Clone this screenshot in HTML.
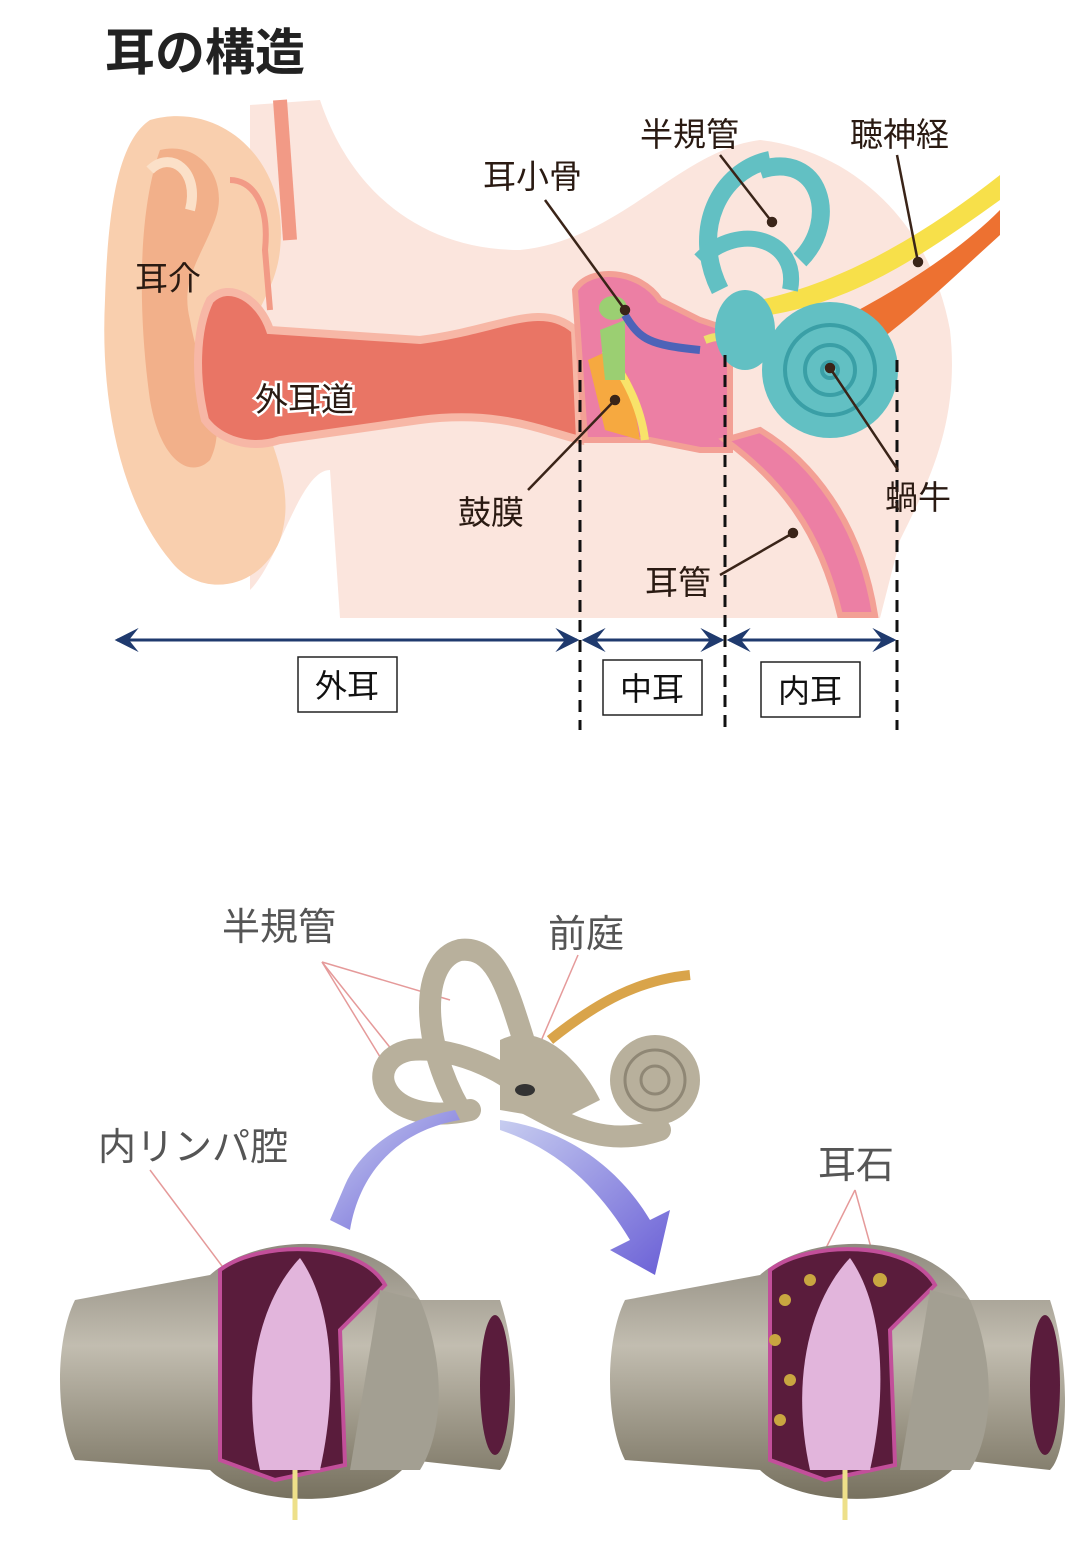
<!DOCTYPE html>
<html><head><meta charset="utf-8"><style>
body{margin:0;background:#fff}
svg text{font-family:"Liberation Sans","Noto Sans CJK JP",sans-serif}
</style></head><body>
<svg width="1078" height="1536" viewBox="0 0 1078 1536" xmlns="http://www.w3.org/2000/svg">
<defs>
<marker id="ar" viewBox="0 0 10 10" refX="9" refY="5" markerWidth="8" markerHeight="8" orient="auto-start-reverse"><path d="M0,0 L10,5 L0,10 L4,5z" fill="#1f3a6e"/></marker>
<linearGradient id="cyl" x1="0" y1="0" x2="0" y2="1"><stop offset="0" stop-color="#8f8a7e"/><stop offset="0.4" stop-color="#c2bdb0"/><stop offset="1" stop-color="#77715f"/></linearGradient>
<linearGradient id="bl" x1="0" y1="0" x2="1" y2="1"><stop offset="0" stop-color="#c7cdf0"/><stop offset="1" stop-color="#6a5fd6"/></linearGradient>
</defs>
<text x="105" y="70" font-size="50" font-weight="bold" fill="#222">耳の構造</text>
<path d="M250,105 L320,100 C350,190 420,250 520,250 C620,240 680,150 760,140 C850,150 930,220 950,330 C960,420 930,480 900,540 L880,618 L340,618 L330,470 C300,470 280,560 250,590 Z" fill="#fbe5dd"/>
<path d="M150,120 C220,100 290,160 280,250 C275,300 240,320 250,370 C260,430 300,480 280,540 C260,590 200,600 170,560 C120,500 100,400 105,300 C108,200 120,140 150,120Z" fill="#f9cfae"/>
<path d="M160,150 C200,140 230,180 215,220 C200,260 180,280 190,320 C200,380 230,420 210,460 C190,480 160,460 150,400 C140,330 135,220 160,150Z" fill="#f2b08a"/>
<path d="M150,170 C170,150 200,170 190,210" stroke="#fbe0c8" stroke-width="10" fill="none"/>
<path d="M210,300 C230,280 260,300 270,330 L420,340 C500,330 540,300 575,330 L580,440 C540,430 500,410 420,420 L280,440 C250,450 220,440 205,420 C195,380 195,330 210,300Z" fill="#e97565" stroke="#f7b7a6" stroke-width="8"/>
<path d="M230,180 C250,180 270,200 265,250 L270,310" stroke="#f29a86" stroke-width="6" fill="none"/>
<path d="M280,100 L290,240" stroke="#f29a86" stroke-width="14" fill="none"/>
<path d="M575,290 C590,265 640,270 660,300 L700,320 L730,330 L730,450 L700,450 L650,440 L585,440 Z" fill="#ec7fa4" stroke="#f3a095" stroke-width="6"/>
<path d="M588,360 L610,350 L630,380 L640,440 L605,430 Z" fill="#f6a940"/>
<path d="M605,350 C620,370 640,400 645,440" stroke="#f8e36a" stroke-width="8" fill="none"/>
<ellipse cx="613" cy="308" rx="14" ry="12" fill="#9bcf72"/>
<path d="M600,330 L625,320 L625,380 L605,380Z" fill="#9bcf72"/>
<path d="M625,315 C640,340 650,345 700,350" stroke="#4d63b8" stroke-width="8" fill="none"/>
<path d="M705,340 C730,330 740,345 745,355" stroke="#ede06a" stroke-width="8" fill="none"/>
<path d="M725,440 C780,480 820,530 840,615 L875,615 C860,520 810,460 760,430 Z" fill="#ec7fa4" stroke="#f3a095" stroke-width="6"/>
<path d="M760,300 C850,280 930,230 1000,175 L1000,200 C930,250 860,300 770,315Z" fill="#f7e04a"/>
<path d="M820,330 C880,300 950,260 1000,210 L1000,235 C950,280 900,330 850,360Z" fill="#ed7131"/>
<circle cx="830" cy="370" r="68" fill="#62c0c3"/>
<circle cx="830" cy="370" r="45" fill="none" stroke="#3a9fa6" stroke-width="4"/>
<circle cx="830" cy="370" r="25" fill="none" stroke="#3a9fa6" stroke-width="4"/>
<circle cx="830" cy="370" r="8" fill="none" stroke="#3a9fa6" stroke-width="4"/>
<ellipse cx="745" cy="330" rx="30" ry="40" fill="#62c0c3"/>
<path d="M720,290 C690,230 720,170 770,160" stroke="#62c0c3" stroke-width="18" fill="none"/>
<path d="M760,170 C820,150 840,220 800,260" stroke="#62c0c3" stroke-width="18" fill="none"/>
<path d="M700,260 C740,220 800,240 790,290" stroke="#62c0c3" stroke-width="16" fill="none"/>
<g stroke="#111" stroke-width="3" stroke-dasharray="12,8">
<line x1="580" y1="360" x2="580" y2="730"/><line x1="725" y1="355" x2="725" y2="730"/><line x1="897" y1="360" x2="897" y2="730"/>
</g>
<g stroke="#1f3a6e" stroke-width="3">
<line x1="117" y1="640" x2="577" y2="640" marker-start="url(#ar)" marker-end="url(#ar)"/>
<line x1="584" y1="640" x2="722" y2="640" marker-start="url(#ar)" marker-end="url(#ar)"/>
<line x1="729" y1="640" x2="894" y2="640" marker-start="url(#ar)" marker-end="url(#ar)"/>
</g>
<g fill="#fff" stroke="#222" stroke-width="1.5">
<rect x="298" y="657" width="99" height="55"/><rect x="603" y="660" width="99" height="55"/><rect x="761" y="662" width="99" height="55"/>
</g>
<g font-size="32" fill="#111" text-anchor="middle">
<text x="347" y="697">外耳</text><text x="652" y="700">中耳</text><text x="810" y="702">内耳</text>
</g>
<g stroke="#3a2418" stroke-width="2.5" fill="#3a2418">
<line x1="545" y1="200" x2="625" y2="310"/><circle cx="625" cy="310" r="4"/>
<line x1="720" y1="155" x2="772" y2="222"/><circle cx="772" cy="222" r="4"/>
<line x1="897" y1="155" x2="918" y2="262"/><circle cx="918" cy="262" r="4"/>
<line x1="528" y1="490" x2="615" y2="400"/><circle cx="615" cy="400" r="4"/>
<line x1="898" y1="470" x2="830" y2="368"/><circle cx="830" cy="368" r="4"/>
<line x1="720" y1="575" x2="793" y2="533"/><circle cx="793" cy="533" r="4"/>
</g>
<g font-size="33" fill="#2a1a12">
<text x="135" y="290">耳介</text>
<text x="483" y="188">耳小骨</text>
<text x="640" y="146">半規管</text>
<text x="850" y="146">聴神経</text>
<text x="458" y="524">鼓膜</text>
<text x="885" y="509">蝸牛</text>
<text x="645" y="594">耳管</text>
<text x="255" y="411" stroke="#fff" stroke-width="5" paint-order="stroke">外耳道</text>
</g>
<g font-size="38" fill="#555">
<text x="222" y="940">半規管</text><text x="548" y="947">前庭</text>
<text x="98" y="1160">内リンパ腔</text><text x="818" y="1178">耳石</text>
</g>
<g stroke="#e59a9a" stroke-width="1.5">
<line x1="322" y1="962" x2="450" y2="1000"/><line x1="322" y1="962" x2="400" y2="1060"/><line x1="322" y1="962" x2="385" y2="1065"/>
<line x1="578" y1="955" x2="535" y2="1055"/><line x1="150" y1="1170" x2="240" y2="1290"/>
<line x1="855" y1="1190" x2="820" y2="1260"/><line x1="855" y1="1190" x2="880" y2="1280"/>
</g>
<g fill="none" stroke="#b8b09c" stroke-width="22" stroke-linecap="round">
<path d="M460,1110 C420,1040 420,960 460,950 C500,945 510,1000 530,1060"/>
<path d="M470,1110 C380,1130 360,1060 410,1050 C460,1045 520,1080 520,1090"/>
<path d="M520,1100 C560,1120 600,1150 660,1130"/>
</g>
<path d="M500,1040 C540,1020 580,1060 600,1100 L560,1120 L500,1110Z" fill="#b8b09c"/>
<path d="M550,1040 C600,1000 640,980 690,975" stroke="#d9a44a" stroke-width="10" fill="none"/>
<circle cx="655" cy="1080" r="45" fill="#b8b09c"/>
<circle cx="655" cy="1080" r="30" fill="none" stroke="#8f8775" stroke-width="3"/>
<circle cx="655" cy="1080" r="14" fill="none" stroke="#8f8775" stroke-width="3"/>
<ellipse cx="525" cy="1090" rx="10" ry="6" fill="#333"/>
<path d="M460,1120 C400,1130 360,1170 350,1230 L330,1220 L345,1185 C360,1150 400,1120 455,1110Z" fill="url(#bl)"/>
<path d="M500,1120 C570,1130 620,1170 650,1220 L670,1210 L655,1275 L610,1250 L630,1240 C600,1190 560,1150 500,1130Z" fill="url(#bl)"/>
<g id="c1">
<path d="M75,1300 L210,1275 C260,1230 380,1230 420,1300 L500,1300 C520,1360 520,1450 500,1470 L410,1460 C380,1510 250,1510 210,1470 L75,1460 C55,1420 55,1340 75,1300Z" fill="url(#cyl)"/>
<path d="M220,1270 C260,1240 360,1240 385,1285 L340,1330 L345,1465 L275,1480 L220,1460Z" fill="#5a1c3c" stroke="#c24f9a" stroke-width="4"/>
<path d="M300,1258 C330,1300 340,1380 320,1470 L260,1470 C240,1380 260,1300 300,1258Z" fill="#e2b5dc"/>
<path d="M380,1290 L420,1300 C445,1360 445,1430 420,1470 L350,1470Z" fill="#a39f92"/>
<ellipse cx="495" cy="1385" rx="15" ry="70" fill="#5a1c3c"/>
<path d="M295,1470 L295,1520" stroke="#eee08a" stroke-width="5"/>
</g>
<use href="#c1" x="550"/>
<g fill="#c8a640">
<circle cx="785" cy="1300" r="6"/><circle cx="775" cy="1340" r="6"/><circle cx="790" cy="1380" r="6"/><circle cx="780" cy="1420" r="6"/><circle cx="810" cy="1280" r="6"/><circle cx="880" cy="1280" r="7"/>
</g>
</svg>
</body></html>
